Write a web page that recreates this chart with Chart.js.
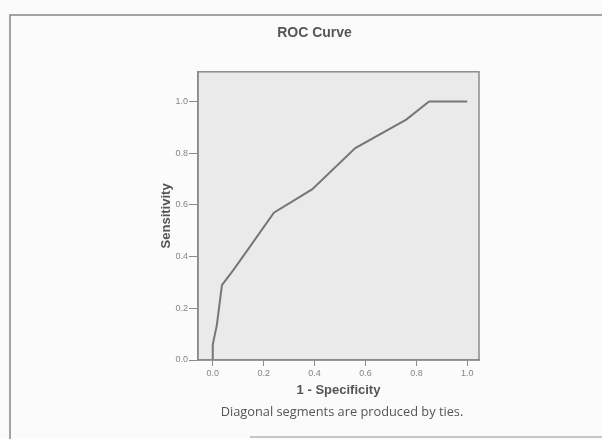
<!DOCTYPE html>
<html>
<head>
<meta charset="utf-8">
<script src="https://cdn.jsdelivr.net/npm/chart.js@4"></script>
<style>
  html, body { margin: 0; padding: 0; background: #fbfbfb; }
  canvas { display: block; }
</style>
</head>
<body>
<canvas id="roc" width="602" height="439"></canvas>
<script>
// ROC curve points
const falsePositiveRate = [0, 0, 0.016, 0.036, 0.082, 0.14, 0.24, 0.39, 0.56, 0.76, 0.85, 1.0];
const sensitivity = [0, 0.06, 0.135, 0.29, 0.35, 0.43, 0.57, 0.66, 0.82, 0.93, 1.0, 1.0];

// axis ranges and tick labels
const xRange = [-0.058, 1.046];
const yRange = [0, 1.115];
const tickStep = 0.2;

const chartTitle = "ROC Curve";
const xTitle = "1 - Specificity";
const yTitle = "Sensitivity";
const footnote = "Diagonal segments are produced by ties.";

const points = falsePositiveRate.map((x, i) => ({ x: x, y: sensitivity[i] }));

// plot background, full frame round the plot, outer box and the footnote
const framePlugin = {
  id: "frame",
  beforeDraw(chart) {
    const ctx = chart.ctx;
    const a = chart.chartArea;
    ctx.save();
    ctx.fillStyle = "#fbfbfb";
    ctx.fillRect(0, 0, chart.width, chart.height);
    // outer box
    ctx.strokeStyle = "#858585";
    ctx.lineWidth = 1.5;
    ctx.beginPath();
    ctx.moveTo(10, 439);
    ctx.lineTo(10, 15);
    ctx.lineTo(602, 15);
    ctx.stroke();
    ctx.strokeStyle = "#b5b5b5";
    ctx.beginPath();
    ctx.moveTo(250, 437);
    ctx.lineTo(602, 437);
    ctx.stroke();
    // plot area
    ctx.fillStyle = "#eaeaea";
    ctx.fillRect(a.left, a.top, a.right - a.left, a.bottom - a.top);
    ctx.restore();
  },
  afterDraw(chart) {
    const ctx = chart.ctx;
    const a = chart.chartArea;
    ctx.save();
    ctx.strokeStyle = "#8a8a8a";
    ctx.lineWidth = 1.5;
    ctx.strokeRect(a.left, a.top, a.right - a.left, a.bottom - a.top);
    ctx.fillStyle = "#555555";
    ctx.font = "12.8px 'Open Sans', sans-serif";
    ctx.textAlign = "center";
    ctx.textBaseline = "middle";
    ctx.fillText(footnote, 342, 412);
    ctx.restore();
  }
};

new Chart(document.getElementById("roc"), {
  type: "scatter",
  data: {
    datasets: [{
      data: points,
      showLine: true,
      borderColor: "#767676",
      borderWidth: 2,
      pointRadius: 0,
      tension: 0
    }]
  },
  options: {
    responsive: false,
    animation: false,
    layout: { padding: { left: 150, right: 123, top: 15, bottom: 39 } },
    plugins: {
      legend: { display: false },
      tooltip: { enabled: false },
      title: {
        display: true,
        text: chartTitle,
        color: "#555555",
        font: { family: "Arial, 'Liberation Sans', sans-serif", size: 14, weight: "bold" },
        padding: { top: 10, bottom: 30 }
      }
    },
    scales: {
      x: {
        type: "linear",
        min: xRange[0],
        max: xRange[1],
        afterFit(scale) { scale.height = 40; },
        grid: { drawOnChartArea: false, drawTicks: true, tickLength: 6, color: "#8a8a8a" },
        border: { display: true, color: "#8a8a8a", width: 1.5 },
        ticks: {
          stepSize: tickStep,
          includeBounds: false,
          padding: 2,
          color: "#858585",
          maxRotation: 0,
          font: { family: "Arial, 'Liberation Sans', sans-serif", size: 9 },
          callback: (v) => v.toFixed(1)
        },
        title: {
          display: true,
          text: xTitle,
          color: "#555555",
          padding: { top: 0, bottom: 2 },
          font: { family: "Arial, 'Liberation Sans', sans-serif", size: 13, weight: "bold" }
        }
      },
      y: {
        type: "linear",
        min: yRange[0],
        max: yRange[1],
        afterFit(scale) { scale.width = 48; },
        grid: { drawOnChartArea: false, drawTicks: true, tickLength: 9, color: "#8a8a8a" },
        border: { display: true, color: "#8a8a8a", width: 1.5 },
        ticks: {
          stepSize: tickStep,
          includeBounds: false,
          padding: 1,
          color: "#858585",
          font: { family: "Arial, 'Liberation Sans', sans-serif", size: 9 },
          callback: (v) => v.toFixed(1)
        },
        title: {
          display: true,
          text: yTitle,
          color: "#555555",
          padding: { top: 9, bottom: 0 },
          font: { family: "Arial, 'Liberation Sans', sans-serif", size: 13, weight: "bold" }
        }
      }
    }
  },
  plugins: [framePlugin]
});
</script>
</body>
</html>
